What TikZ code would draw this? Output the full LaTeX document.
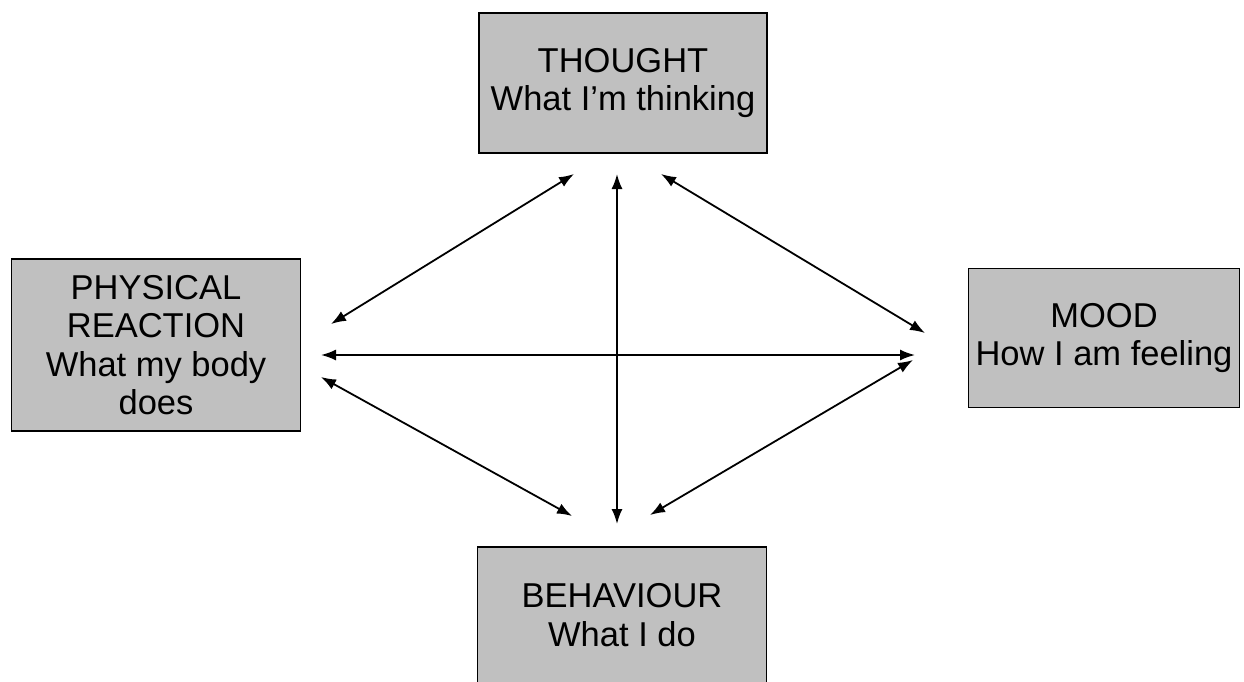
\documentclass[tikz,border=0pt]{standalone}
\usepackage{fontspec}
\setmainfont{Liberation Sans}
\usetikzlibrary{arrows.meta}
\definecolor{boxfill}{RGB}{192,192,192}
\begin{document}
\begin{tikzpicture}[x=1pt,y=-1pt,
  box/.style={draw=black, line width=1.5pt, fill=boxfill, align=center,
    inner sep=0pt, font=\fontsize{34.5}{38.5}\selectfont},
  link/.style={line width=1.8pt, {Latex[length=15pt,width=11pt]}-{Latex[length=15pt,width=11pt]}}]
\useasboundingbox (0,0) rectangle (1244,681);
\node[box, minimum width=288pt, minimum height=140pt] (thought) at (623,83) {THOUGHT\\What I’m thinking};
\node[box, minimum width=289pt, minimum height=172pt] (phys) at (156,345) {PHYSICAL\\REACTION\\What my body\\does};
\node[box, minimum width=271pt, minimum height=139pt] (mood) at (1104,338) {MOOD\\How I am feeling};
\node[box, minimum width=289pt, minimum height=136pt] (beh) at (622,615) {BEHAVIOUR\\What I do};
\coordinate (tL) at (574,174);
\coordinate (tM) at (617,174);
\coordinate (tR) at (661,174);
\coordinate (pU) at (331,324);
\coordinate (pM) at (321,355);
\coordinate (pD) at (321,377);
\coordinate (mU) at (925,333);
\coordinate (mM) at (915,355);
\coordinate (mD) at (913,360);
\coordinate (bL) at (572,516);
\coordinate (bM) at (617,524);
\coordinate (bR) at (650,515);
\draw[link] (tL) -- (pU);
\draw[link] (tM) -- (bM);
\draw[link] (tR) -- (mU);
\draw[link] (pM) -- (mM);
\draw[link] (pD) -- (bL);
\draw[link] (mD) -- (bR);
\end{tikzpicture}
\end{document}
